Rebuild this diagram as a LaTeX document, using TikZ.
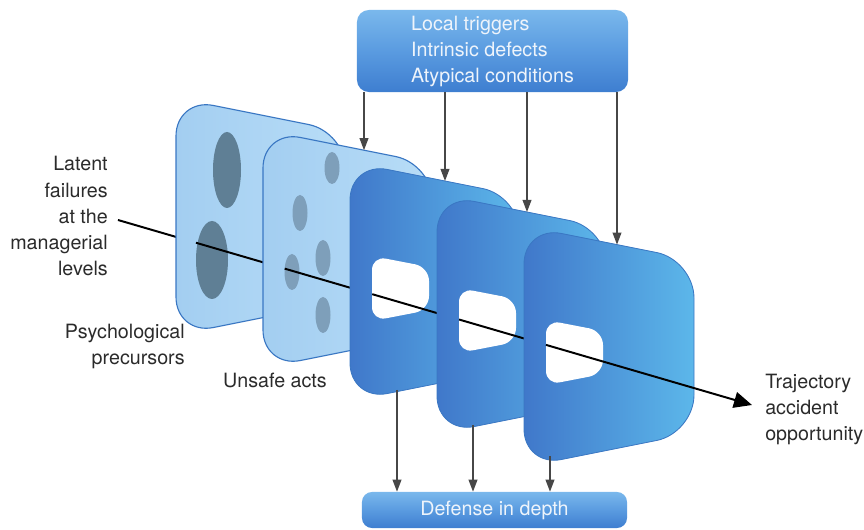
\documentclass[tikz,border=0pt]{standalone}
\usepackage{fontspec}
\setmainfont{TeX Gyre Heros}
\usetikzlibrary{arrows.meta,calc}

\definecolor{boxtop}{HTML}{7AB8EC}
\definecolor{boxmid}{HTML}{5A9BE0}
\definecolor{boxbot}{HTML}{3E7ED0}
\definecolor{boxtext}{HTML}{EEF4FB}
\definecolor{paleleft}{HTML}{A3CEF1}
\definecolor{paleright}{HTML}{B8DDF7}
\definecolor{darkleft}{HTML}{4078CA}
\definecolor{darkright}{HTML}{5CB7EA}
\definecolor{rimblue}{HTML}{3A77C3}
\definecolor{blobgrey}{HTML}{5F7F95}
\definecolor{blobpale}{HTML}{7E9FBA}
\definecolor{labelgrey}{HTML}{2B2B2B}
\definecolor{arrowgrey}{HTML}{474747}

\tikzset{
  bluebox/.style={rounded corners=0.3cm, top color=boxtop, bottom color=boxbot, middle color=boxmid,
    text=boxtext, font=\fontsize{14}{18.5}\selectfont, inner sep=0pt},
  lightpanel/.style={draw=rimblue, line width=0.8pt, left color=paleleft, right color=paleright, rounded corners=0.95cm},
  darkpanel/.style={draw=rimblue, line width=0.6pt, left color=darkleft, right color=darkright, rounded corners=0.95cm},
  panelhole/.style={fill=white, rounded corners=0.35cm},
  blobA/.style={fill=blobgrey},
  blobB/.style={fill=blobpale},
  trajline/.style={line width=1.4pt, black},
  droparrow/.style={line width=0.9pt, arrowgrey, -{Triangle[length=0.3cm, width=0.22cm]}},
  sidelabel/.style={font=\fontsize{14}{18.5}\selectfont, text=labelgrey, inner sep=0pt}
}

\begin{document}
\begin{tikzpicture}[x=0.025cm, y=-0.025cm]
\useasboundingbox (0,0) rectangle (864,530);

% the two boxes
\node[bluebox, minimum width=6.775cm, minimum height=2.05cm, align=left] (trig) at (492.5,51)
  {Local triggers\\Intrinsic defects\\Atypical conditions};
\node[bluebox, minimum width=6.625cm, minimum height=0.9cm, rounded corners=0.25cm] (dep) at (494.5,510) {Defense in depth};

% trajectory points
\coordinate (trajS) at (118,220);
\coordinate (trajE) at (752,405);
\coordinate (tr1) at ($(trajS)!0.123!(trajE)$);
\coordinate (tr2) at ($(trajS)!0.263!(trajE)$);
\coordinate (tr3) at ($(trajS)!0.401!(trajE)$);
\coordinate (tr4) at ($(trajS)!0.538!(trajE)$);
\coordinate (tr5) at ($(trajS)!0.675!(trajE)$);

\draw[trajline] (trajS) -- (tr1);

% panel 1
\path[lightpanel] (176,98) -- (346,132) -- (346,301) -- (176,335) -- cycle;
\fill[blobA] (227,170) ellipse [x radius=14, y radius=38];
\fill[blobA] (212,260) ellipse [x radius=16, y radius=39];
\draw[trajline] (tr1) -- (tr2);

% panel 2
\path[lightpanel] (263,130) -- (433,164) -- (433,334) -- (263,368) -- cycle;
\fill[blobB] (332,168) ellipse [x radius=7.5, y radius=16];
\fill[blobB] (300,213) ellipse [x radius=7.5, y radius=18];
\fill[blobB] (323,258) ellipse [x radius=7.5, y radius=18];
\fill[blobB] (292,272) ellipse [x radius=7.5, y radius=18];
\fill[blobB] (323,315) ellipse [x radius=7.5, y radius=18];
\draw[trajline] (tr2) -- (tr3);

% panel 3
\path[darkpanel] (350,162) -- (520,196) -- (520,367) -- (350,401) -- cycle;
\path[panelhole] (372,256) -- (429,267) -- (429,310) -- (372,321) -- cycle;
\draw[trajline] (tr3) -- (tr4);

% panel 4
\path[darkpanel] (437,194) -- (607,228) -- (607,400) -- (437,434) -- cycle;
\path[panelhole] (459,288) -- (516,299) -- (516,342) -- (459,353) -- cycle;
\draw[trajline] (tr4) -- (tr5);

% panel 5
\path[darkpanel] (524,226) -- (694,260) -- (694,433) -- (524,467) -- cycle;
\path[panelhole] (546,320) -- (603,331) -- (603,374) -- (546,385) -- cycle;
\draw[trajline, -{Triangle[length=0.45cm, width=0.4cm]}] (tr5) -- (trajE);

% arrows in and out
\coordinate (in2) at (364,150.2);
\coordinate (in3) at (445,181);
\coordinate (in4) at (527,212);
\coordinate (in5) at (617,244.6);
\draw[droparrow] (trig.south -| in2) -- (in2);
\draw[droparrow] (trig.south -| in3) -- (in3);
\draw[droparrow] (trig.south -| in4) -- (in4);
\draw[droparrow] (trig.south -| in5) -- (in5);

\coordinate (out3) at (397,390);
\coordinate (out4) at (473,425);
\coordinate (out5) at (550,456);
\draw[droparrow] (out3) -- (dep.north -| out3);
\draw[droparrow] (out4) -- (dep.north -| out4);
\draw[droparrow] (out5) -- (dep.north -| out5);

% labels
\node[sidelabel, anchor=east, align=right] (latent) at (108,216) {Latent\\failures\\at the\\managerial\\levels};
\node[sidelabel, anchor=east, align=right] (psych) at (185,346) {Psychological\\precursors};
\node[sidelabel] (unsafe) at (275,380) {Unsafe acts};
\node[sidelabel, anchor=west, align=left] (traj) at (765,409) {Trajectory\\accident\\opportunity};
\end{tikzpicture}
\end{document}
